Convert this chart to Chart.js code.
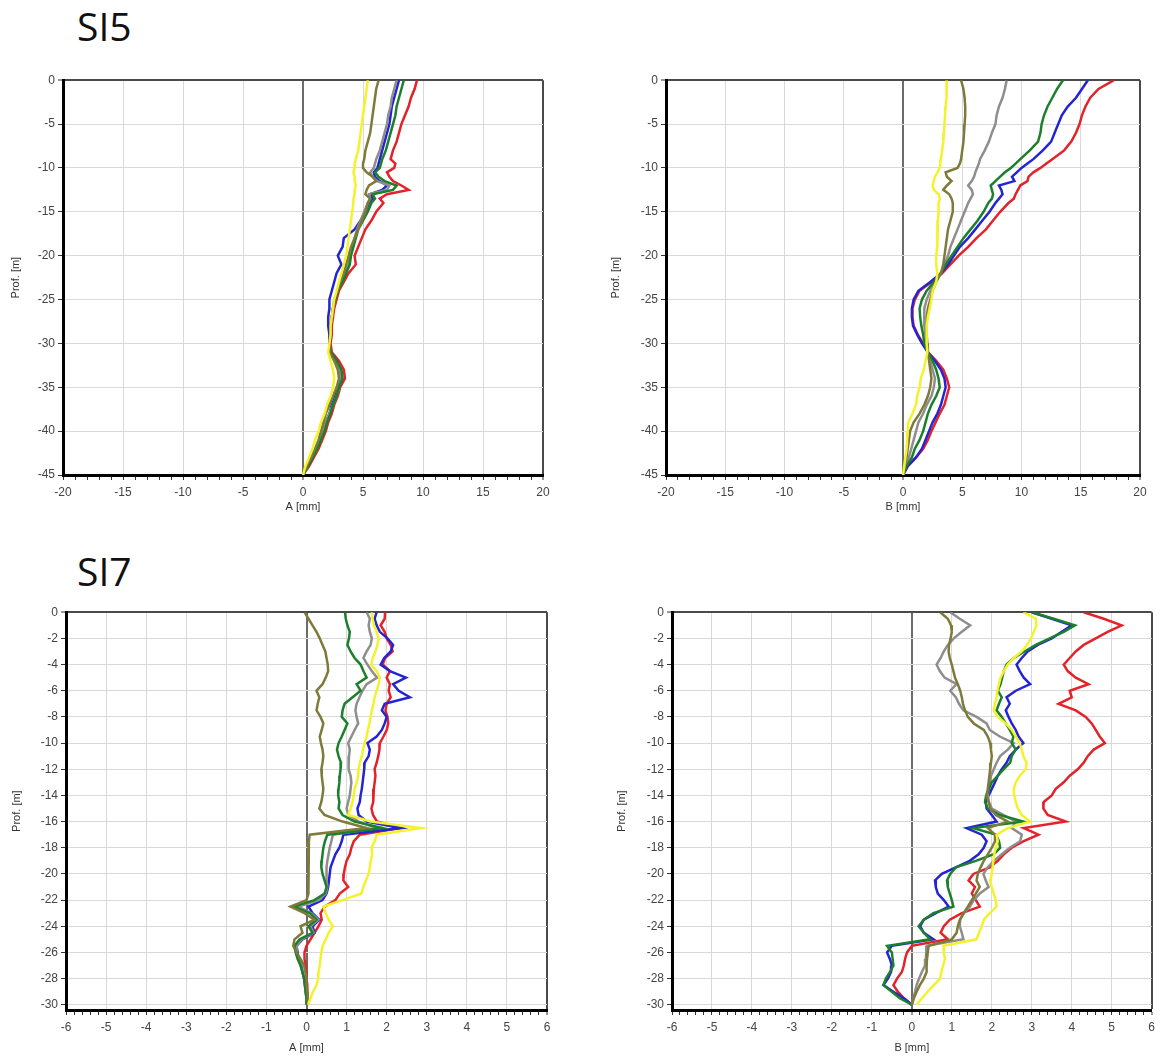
<!DOCTYPE html>
<html>
<head>
<meta charset="utf-8">
<script src="https://cdn.jsdelivr.net/npm/chart.js@4.4.1/dist/chart.umd.min.js"></script>
<style>
  html, body { margin: 0; padding: 0; background: #ffffff; width: 1161px; height: 1057px; overflow: hidden; }
  .ttl { position: absolute; font-family: "Open Sans", "Noto Sans", sans-serif; font-size: 39px; line-height: 1; color: #111; }
  canvas { position: absolute; }
</style>
</head>
<body>
<div class="ttl" style="left:77px; top:6px;">SI5</div>
<div class="ttl" style="left:77px; top:551px;">SI7</div>
<canvas id="c1" width="546" height="444" style="left:9px; top:70px;"></canvas>
<canvas id="c2" width="543" height="444" style="left:609px; top:70px;"></canvas>
<canvas id="c3" width="549" height="453" style="left:10px; top:602px;"></canvas>
<canvas id="c4" width="545" height="453" style="left:615px; top:602px;"></canvas>
<script>
// ---------- depth categories (m) ----------
const depthSI5 = [0,-1,-2,-3,-4,-5,-6,-7,-8,-9,
  -9.5,-10,-10.5,-11,-11.5,-12,-12.5,-13,-13.5,-14,
  -15,-16,-17,-18,-19,-20,-21,-22,-23,-24,-25,-26,-27,-28,-29,-30,
  -31,-32,-33,-34,-35,-36,-37,-38,-39,-40,-41,-42,-43,-44,-45];

const depthSI7 = [0,-0.5,-1,-1.5,-2,-2.5,-3,-3.5,-4,-4.5,
  -5,-5.5,-6,-6.5,-7,-7.5,-8,-8.5,-9,-9.5,
  -10,-10.5,-11,-11.5,-12,-12.5,-13,-13.5,-14,-14.5,
  -15,-15.5,-16,-16.5,-17,-17.5,-18,-18.5,-19,-19.5,
  -20,-20.5,-21,-21.5,-22,-22.5,-23,-23.5,-24,-24.5,
  -25,-25.5,-26,-26.5,-27,-27.5,-28,-28.5,-29,-29.5,-30];

// ---------- SI5, direction A (mm) ----------
const si5A_red    = [9.5,9.3,9.0,8.8,8.5,8.2,8.0,7.8,7.5,7.3, 7.7,7.6,7.0,7.2,7.5,8.2,8.8,7.0,6.4,6.7, 6.1,5.7,5.2,4.9,4.6,4.3,4.4,3.8,3.4,3.0,2.8,2.6,2.5,2.4,2.4,2.3,2.4,3.0,3.4,3.5,3.1,2.9,2.6,2.4,2.1,1.9,1.6,1.3,0.9,0.5,0];
const si5A_blue   = [8.0,7.8,7.6,7.4,7.3,7.2,7.0,6.8,6.6,6.4, 6.3,6.2,5.9,6.0,6.4,7.0,6.6,5.6,5.8,5.5, 5.2,4.8,4.3,3.4,3.3,2.9,3.2,2.8,2.6,2.4,2.2,2.2,2.1,2.1,2.2,2.2,2.3,2.8,3.1,3.2,2.9,2.7,2.4,2.2,1.9,1.7,1.4,1.1,0.8,0.4,0];
const si5A_green  = [8.4,8.2,8.0,7.8,7.7,7.5,7.3,7.1,6.9,6.6, 6.5,6.4,6.0,6.3,6.8,7.8,7.5,5.8,6.0,5.7, 5.4,5.0,4.6,4.4,4.2,4.0,3.9,3.6,3.3,2.9,2.7,2.5,2.4,2.3,2.3,2.2,2.3,2.8,3.2,3.3,3.0,2.8,2.5,2.3,2.0,1.8,1.5,1.2,0.8,0.4,0];
const si5A_gray   = [7.8,7.6,7.4,7.3,7.1,7.0,6.8,6.6,6.4,6.1, 6.0,5.9,5.6,5.8,6.2,7.2,7.0,5.5,5.6,5.4, 5.1,4.8,4.5,4.3,4.1,3.9,3.8,3.5,3.2,2.9,2.7,2.5,2.4,2.3,2.3,2.2,2.3,2.7,3.1,3.2,3.0,2.8,2.5,2.2,1.9,1.7,1.4,1.1,0.7,0.4,0];
const si5A_olive  = [6.3,6.1,6.0,5.9,5.8,5.7,5.6,5.4,5.2,5.1, 5.0,5.0,5.3,5.8,6.1,5.5,5.3,5.2,5.6,5.4, 5.2,4.9,4.6,4.3,4.0,3.8,3.6,3.4,3.1,2.9,2.6,2.5,2.4,2.3,2.3,2.2,2.2,2.6,2.9,3.0,2.8,2.5,2.2,1.9,1.7,1.5,1.3,1.0,0.7,0.3,0];
const si5A_yellow = [5.4,5.3,5.2,5.1,5.0,4.9,4.8,4.7,4.6,4.4, 4.3,4.3,4.2,4.3,4.3,4.4,4.3,4.3,4.2,4.2, 4.1,4.0,3.9,3.8,3.7,3.6,3.4,3.2,3.0,2.8,2.6,2.5,2.4,2.3,2.3,2.2,2.1,2.3,2.5,2.6,2.5,2.3,2.0,1.8,1.5,1.3,1.0,0.8,0.5,0.2,0];

// ---------- SI5, direction B (mm) ----------
const si5B_red    = [17.8,16.5,15.8,15.4,15.1,14.9,14.6,14.2,13.6,12.6, 12.1,11.6,11.0,10.6,10.5,9.9,9.7,9.5,9.35,8.9, 8.2,7.6,7.0,6.2,5.5,4.7,4.0,3.3,2.4,1.4,1.0,0.8,0.8,0.9,1.25,1.7,2.1,2.8,3.4,3.7,3.9,3.7,3.5,3.1,2.75,2.4,2.1,1.7,1.1,0.4,0];
const si5B_blue   = [15.6,15.1,14.6,13.9,13.4,13.1,12.8,12.5,11.8,11.0, 10.5,10.0,9.6,9.2,9.4,8.1,8.3,8.4,8.1,7.8, 7.3,6.7,6.1,5.5,4.8,4.3,3.8,3.2,2.3,1.3,0.9,0.75,0.75,0.85,1.2,1.6,2.1,2.7,3.2,3.5,3.6,3.4,3.2,2.9,2.5,2.2,1.9,1.6,1.1,0.4,0];
const si5B_green  = [13.5,13.0,12.6,12.2,11.9,11.7,11.6,11.4,10.7,9.9, 9.5,9.1,8.6,8.2,7.8,7.4,7.5,7.6,7.5,7.2, 6.8,6.3,5.7,5.1,4.6,4.1,3.6,3.2,2.6,2.0,1.6,1.4,1.45,1.55,1.7,1.8,2.1,2.5,2.8,3.0,3.1,2.8,2.4,2.1,1.9,1.7,1.4,1.0,0.75,0.3,0];
const si5B_gray   = [8.75,8.6,8.4,8.1,7.9,7.8,7.5,7.25,6.9,6.5, 6.4,6.25,6.1,6.0,5.8,5.5,5.8,5.9,5.7,5.5, 5.2,4.9,4.6,4.3,4.0,3.8,3.5,3.2,2.7,2.3,2.0,1.8,1.8,1.8,1.9,2.0,2.1,2.3,2.5,2.7,2.6,2.4,2.0,1.7,1.3,1.1,0.9,0.7,0.5,0.25,0];
const si5B_olive  = [4.9,5.1,5.2,5.25,5.25,5.2,5.15,5.1,5.0,4.9, 4.8,4.6,3.6,3.7,4.1,3.7,3.4,3.9,4.1,4.2, 4.2,4.0,3.8,3.7,3.6,3.5,3.4,3.2,2.8,2.5,2.3,2.1,2.0,2.0,2.0,2.05,2.1,2.2,2.3,2.4,2.3,2.1,1.8,1.4,0.9,0.6,0.5,0.4,0.3,0.15,0];
const si5B_yellow = [3.7,3.7,3.65,3.6,3.55,3.5,3.45,3.4,3.3,3.2, 3.15,3.1,2.9,2.7,2.6,2.5,2.6,3.0,3.1,3.0, 3.0,2.95,2.9,2.9,2.9,2.8,2.8,2.9,2.8,2.5,2.4,2.25,2.1,2.0,2.0,2.0,2.05,1.9,1.75,1.5,1.4,1.2,1.1,0.8,0.45,0.4,0.35,0.3,0.2,0.1,0];

// ---------- SI7, direction A (mm) ----------
const si7A_red = [1.96,1.95,1.85,1.95,2.0,2.1,2.15,1.96,1.9,2.08,
  2.0,2.08,2.05,2.1,2.0,1.97,2.02,2.04,2.0,1.92,
  1.83,1.82,1.79,1.75,1.7,1.72,1.7,1.68,1.67,1.66,
  1.62,1.66,1.76,2.33,1.33,1.18,1.12,1.08,1.0,0.96,
  0.93,0.92,1.04,0.83,0.72,0.45,0.35,0.38,0.3,0.2,
  0.1,0.0,-0.05,-0.05,-0.02,0.0,0.0,0.02,0.02,0.02,0.02];
const si7A_blue = [1.75,1.7,1.75,1.83,2.02,2.16,2.1,1.94,1.85,2.08,
  2.48,2.16,2.3,2.58,1.95,1.88,2.0,1.95,1.88,1.75,
  1.52,1.58,1.55,1.45,1.44,1.42,1.4,1.38,1.35,1.33,
  1.27,1.3,1.5,2.35,0.92,0.88,0.82,0.72,0.66,0.6,
  0.58,0.56,0.54,0.5,0.4,0.05,0.15,0.32,0.15,0.2,
  -0.1,-0.25,-0.22,-0.2,-0.13,-0.1,-0.06,-0.04,-0.02,0.0,0.0];
const si7A_green = [0.96,0.98,1.02,1.08,1.06,1.02,1.1,1.2,1.35,1.42,
  1.5,1.25,1.35,1.15,0.95,0.9,0.88,1.02,0.95,0.88,
  0.8,0.76,0.8,0.86,0.85,0.83,0.82,0.8,0.79,0.82,
  0.8,0.9,1.2,1.9,0.52,0.46,0.42,0.4,0.38,0.37,
  0.4,0.45,0.5,0.45,0.2,-0.32,0.08,0.25,0.05,0.15,
  -0.17,-0.3,-0.27,-0.22,-0.15,-0.1,-0.06,-0.04,-0.02,0.0,0.0];
const si7A_gray = [1.5,1.58,1.55,1.58,1.63,1.6,1.5,1.42,1.52,1.63,
  1.76,1.5,1.4,1.32,1.25,1.22,1.25,1.29,1.2,1.12,
  1.04,1.08,1.06,1.04,1.06,1.1,1.12,1.1,1.08,1.04,
  1.0,1.05,1.3,1.75,0.66,0.62,0.58,0.55,0.52,0.5,
  0.5,0.5,0.52,0.48,0.3,-0.2,0.12,0.3,0.1,0.18,
  -0.12,-0.26,-0.24,-0.2,-0.14,-0.1,-0.06,-0.03,-0.02,0.0,0.0];
const si7A_olive = [-0.05,0.05,0.15,0.25,0.33,0.4,0.47,0.5,0.53,0.54,
  0.48,0.4,0.25,0.32,0.28,0.25,0.35,0.42,0.38,0.33,
  0.36,0.4,0.42,0.4,0.37,0.38,0.4,0.42,0.4,0.37,
  0.32,0.45,0.9,1.5,0.08,0.06,0.05,0.05,0.05,0.06,
  0.05,0.04,0.05,0.04,0.0,-0.4,-0.05,0.2,-0.15,-0.1,
  -0.3,-0.33,-0.25,-0.15,-0.06,-0.03,0.0,0.0,0.02,0.03,0.04];
const si7A_yellow = [1.63,1.65,1.68,1.75,1.8,1.77,1.72,1.65,1.62,1.75,
  1.83,1.8,1.75,1.7,1.67,1.63,1.6,1.57,1.53,1.5,
  1.45,1.41,1.38,1.33,1.3,1.29,1.25,1.2,1.18,1.15,
  1.1,1.04,1.6,2.85,1.75,1.7,1.62,1.64,1.6,1.58,
  1.55,1.48,1.42,1.37,0.9,0.42,0.48,0.55,0.66,0.55,
  0.48,0.4,0.37,0.35,0.33,0.3,0.29,0.25,0.16,0.1,0.04];

// ---------- SI7, direction B (mm) ----------
const si7B_red = [4.3,4.8,5.25,4.9,4.6,4.3,4.1,3.95,3.8,3.9,
  4.1,4.42,3.95,4.0,3.67,4.1,4.35,4.5,4.6,4.7,
  4.83,4.55,4.4,4.3,4.15,3.95,3.8,3.6,3.5,3.3,
  3.29,3.4,3.85,2.8,3.17,2.8,2.5,2.3,2.15,1.95,
  1.54,1.42,1.58,1.5,1.6,1.7,1.25,0.95,0.8,0.72,
  0.9,0.0,-0.12,-0.17,-0.2,-0.25,-0.37,-0.46,-0.35,-0.2,0.0];
const si7B_blue = [3.0,3.5,4.0,3.75,3.5,3.15,2.9,2.75,2.62,2.7,
  2.8,2.96,2.6,2.37,2.45,2.35,2.42,2.5,2.6,2.67,
  2.79,2.6,2.45,2.37,2.25,2.15,2.08,2.0,1.92,1.85,
  1.87,2.0,2.12,1.37,1.75,1.87,1.8,1.67,1.45,1.1,
  0.75,0.58,0.6,0.65,0.8,0.92,0.6,0.3,0.21,0.3,
  0.54,-0.5,-0.62,-0.55,-0.5,-0.52,-0.6,-0.71,-0.46,-0.2,0.0];
const si7B_green = [3.0,3.55,4.08,3.8,3.45,3.1,2.82,2.55,2.37,2.3,
  2.26,2.22,2.15,2.25,2.18,2.12,2.25,2.35,2.45,2.54,
  2.5,2.6,2.5,2.46,2.3,2.15,2.0,1.93,1.86,1.83,
  1.9,2.2,2.79,1.54,2.1,2.18,2.21,2.05,1.6,1.1,
  0.96,0.88,0.9,0.95,1.0,1.04,0.54,0.3,0.17,0.3,
  0.46,-0.62,-0.5,-0.48,-0.46,-0.55,-0.65,-0.71,-0.5,-0.3,0.0];
const si7B_gray = [0.96,1.2,1.46,1.25,1.05,0.9,0.8,0.72,0.62,0.7,
  0.82,1.12,0.96,1.1,1.18,1.29,1.62,1.87,1.95,2.2,
  2.55,2.4,2.21,2.12,2.05,1.98,1.96,1.92,1.9,1.93,
  2.0,2.3,2.6,2.5,2.75,2.71,2.45,2.25,2.05,1.9,
  1.79,1.85,1.92,1.7,1.55,1.45,1.3,1.21,1.2,1.25,
  1.29,0.37,0.36,0.35,0.33,0.25,0.18,0.12,0.08,0.04,0.0];
const si7B_olive = [0.71,0.9,0.98,1.0,0.97,0.93,0.92,0.95,1.0,1.04,
  1.08,1.15,1.21,1.25,1.28,1.33,1.4,1.55,1.8,1.9,
  1.96,1.98,2.0,1.98,1.96,1.94,1.92,1.9,1.87,1.92,
  1.96,2.1,2.4,1.9,2.08,2.08,2.0,1.9,1.8,1.72,
  1.65,1.62,1.7,1.6,1.5,1.4,1.3,1.2,1.15,1.12,
  1.0,0.42,0.4,0.38,0.37,0.37,0.3,0.2,0.12,0.05,0.0];
const si7B_yellow = [2.79,3.1,3.12,3.05,2.98,2.88,2.75,2.55,2.4,2.3,
  2.22,2.18,2.14,2.12,2.08,2.05,2.15,2.35,2.5,2.6,
  2.7,2.75,2.79,2.87,2.85,2.7,2.6,2.55,2.56,2.6,
  2.65,2.75,2.96,2.4,2.12,2.15,2.1,2.06,2.04,2.02,
  2.0,1.96,2.0,2.05,2.1,2.12,1.95,1.8,1.75,1.68,
  1.62,0.79,0.8,0.83,0.78,0.74,0.71,0.55,0.4,0.25,0.12];

// ---------- styling ----------
const COLORS = { yellow:'#f4f22c', olive:'#7e7a3a', green:'#1c7f2c', gray:'#8e8e8e', blue:'#2424d2', red:'#e3222a' };
const TICK_FONT = { family: '"Liberation Sans", Arial, sans-serif', size: 12 };
const TITLE_FONT = { family: '"Liberation Sans", Arial, sans-serif', size: 11 };

function pts(depths, vals) { return vals.map((v, i) => ({ x: v, y: depths[i] })); }

function makePanel(id, p) {
  const series = [
    ['yellow', p.yellow], ['olive', p.olive], ['green', p.green],
    ['gray', p.gray], ['blue', p.blue], ['red', p.red]
  ];
  const datasets = series.map(([c, vals]) => ({
    data: pts(p.depth, vals), borderColor: COLORS[c], backgroundColor: COLORS[c],
    showLine: true, borderWidth: 2.5, pointRadius: 0, pointHoverRadius: 0, tension: 0, fill: false
  }));
  const isMajorX = v => Math.abs(v / p.xMajor - Math.round(v / p.xMajor)) < 1e-6;
  new Chart(document.getElementById(id), {
    type: 'scatter',
    data: { datasets },
    options: {
      responsive: false, animation: false, devicePixelRatio: 1,
      layout: { padding: { top: 10, right: p.padR, left: 0, bottom: 0 } },
      plugins: { legend: { display: false }, tooltip: { enabled: false } },
      scales: {
        x: {
          type: 'linear', position: 'bottom', min: p.xMin, max: p.xMax,
          ticks: { stepSize: p.xMinor, autoSkip: false, maxRotation: 0, minRotation: 0, padding: 5,
                   color: '#444', font: TICK_FONT,
                   callback: v => isMajorX(v) ? String(Math.round(v)) : '' },
          grid: {
            drawTicks: true, tickLength: 5, tickWidth: 1, tickColor: '#333',
            color: c => { const v = c.tick ? c.tick.value : null;
              if (v === null) return 'rgba(0,0,0,0)';
              if (Math.abs(v) < 1e-9) return '#6c6c6c';
              if (Math.abs(v - p.xMax) < 1e-9) return '#4a4a4a';
              return isMajorX(v) ? '#d9d9d9' : 'rgba(0,0,0,0)'; },
            lineWidth: c => { const v = c.tick ? c.tick.value : null;
              if (v !== null && (Math.abs(v) < 1e-9 || Math.abs(v - p.xMax) < 1e-9)) return 2;
              return 1; }
          },
          border: { display: true, color: '#000', width: 3 },
          title: { display: true, text: p.xTitle, color: '#333', font: TITLE_FONT, padding: { top: 0, bottom: 0 } },
          afterFit: s => { s.height = p.xH; }
        },
        y: {
          type: 'linear', position: 'left', min: p.yMin, max: 0,
          ticks: { stepSize: p.yStep, includeBounds: false, padding: 3, color: '#444', font: TICK_FONT,
                   callback: v => String(v) },
          grid: {
            drawTicks: true, tickLength: 5, tickWidth: 1, tickColor: '#333',
            color: c => (c.tick && c.tick.value === 0) ? '#4a4a4a' : '#d9d9d9',
            lineWidth: c => (c.tick && c.tick.value === 0) ? 2 : 1
          },
          border: { display: true, color: '#000', width: 3 },
          title: { display: true, text: 'Prof. [m]', color: '#333', font: TITLE_FONT, padding: { top: 0, bottom: 0 } },
          afterFit: s => { s.width = p.yW; }
        }
      }
    }
  });
}

makePanel('c1', { depth: depthSI5, red: si5A_red, blue: si5A_blue, green: si5A_green, gray: si5A_gray, olive: si5A_olive, yellow: si5A_yellow,
  xMin: -20, xMax: 20, xMinor: 1, xMajor: 5, yMin: -45, yStep: 5, xTitle: 'A [mm]', yW: 54, xH: 39, padR: 12 });
makePanel('c2', { depth: depthSI5, red: si5B_red, blue: si5B_blue, green: si5B_green, gray: si5B_gray, olive: si5B_olive, yellow: si5B_yellow,
  xMin: -20, xMax: 20, xMinor: 1, xMajor: 5, yMin: -45, yStep: 5, xTitle: 'B [mm]', yW: 57, xH: 39, padR: 12 });
makePanel('c3', { depth: depthSI7, red: si7A_red, blue: si7A_blue, green: si7A_green, gray: si7A_gray, olive: si7A_olive, yellow: si7A_yellow,
  xMin: -6, xMax: 6, xMinor: 0.2, xMajor: 1, yMin: -30.4, yStep: 2, xTitle: 'A [mm]', yW: 56, xH: 45, padR: 12 });
makePanel('c4', { depth: depthSI7, red: si7B_red, blue: si7B_blue, green: si7B_green, gray: si7B_gray, olive: si7B_olive, yellow: si7B_yellow,
  xMin: -6, xMax: 6, xMinor: 0.2, xMajor: 1, yMin: -30.4, yStep: 2, xTitle: 'B [mm]', yW: 57, xH: 45, padR: 8 });
</script>
</body>
</html>
